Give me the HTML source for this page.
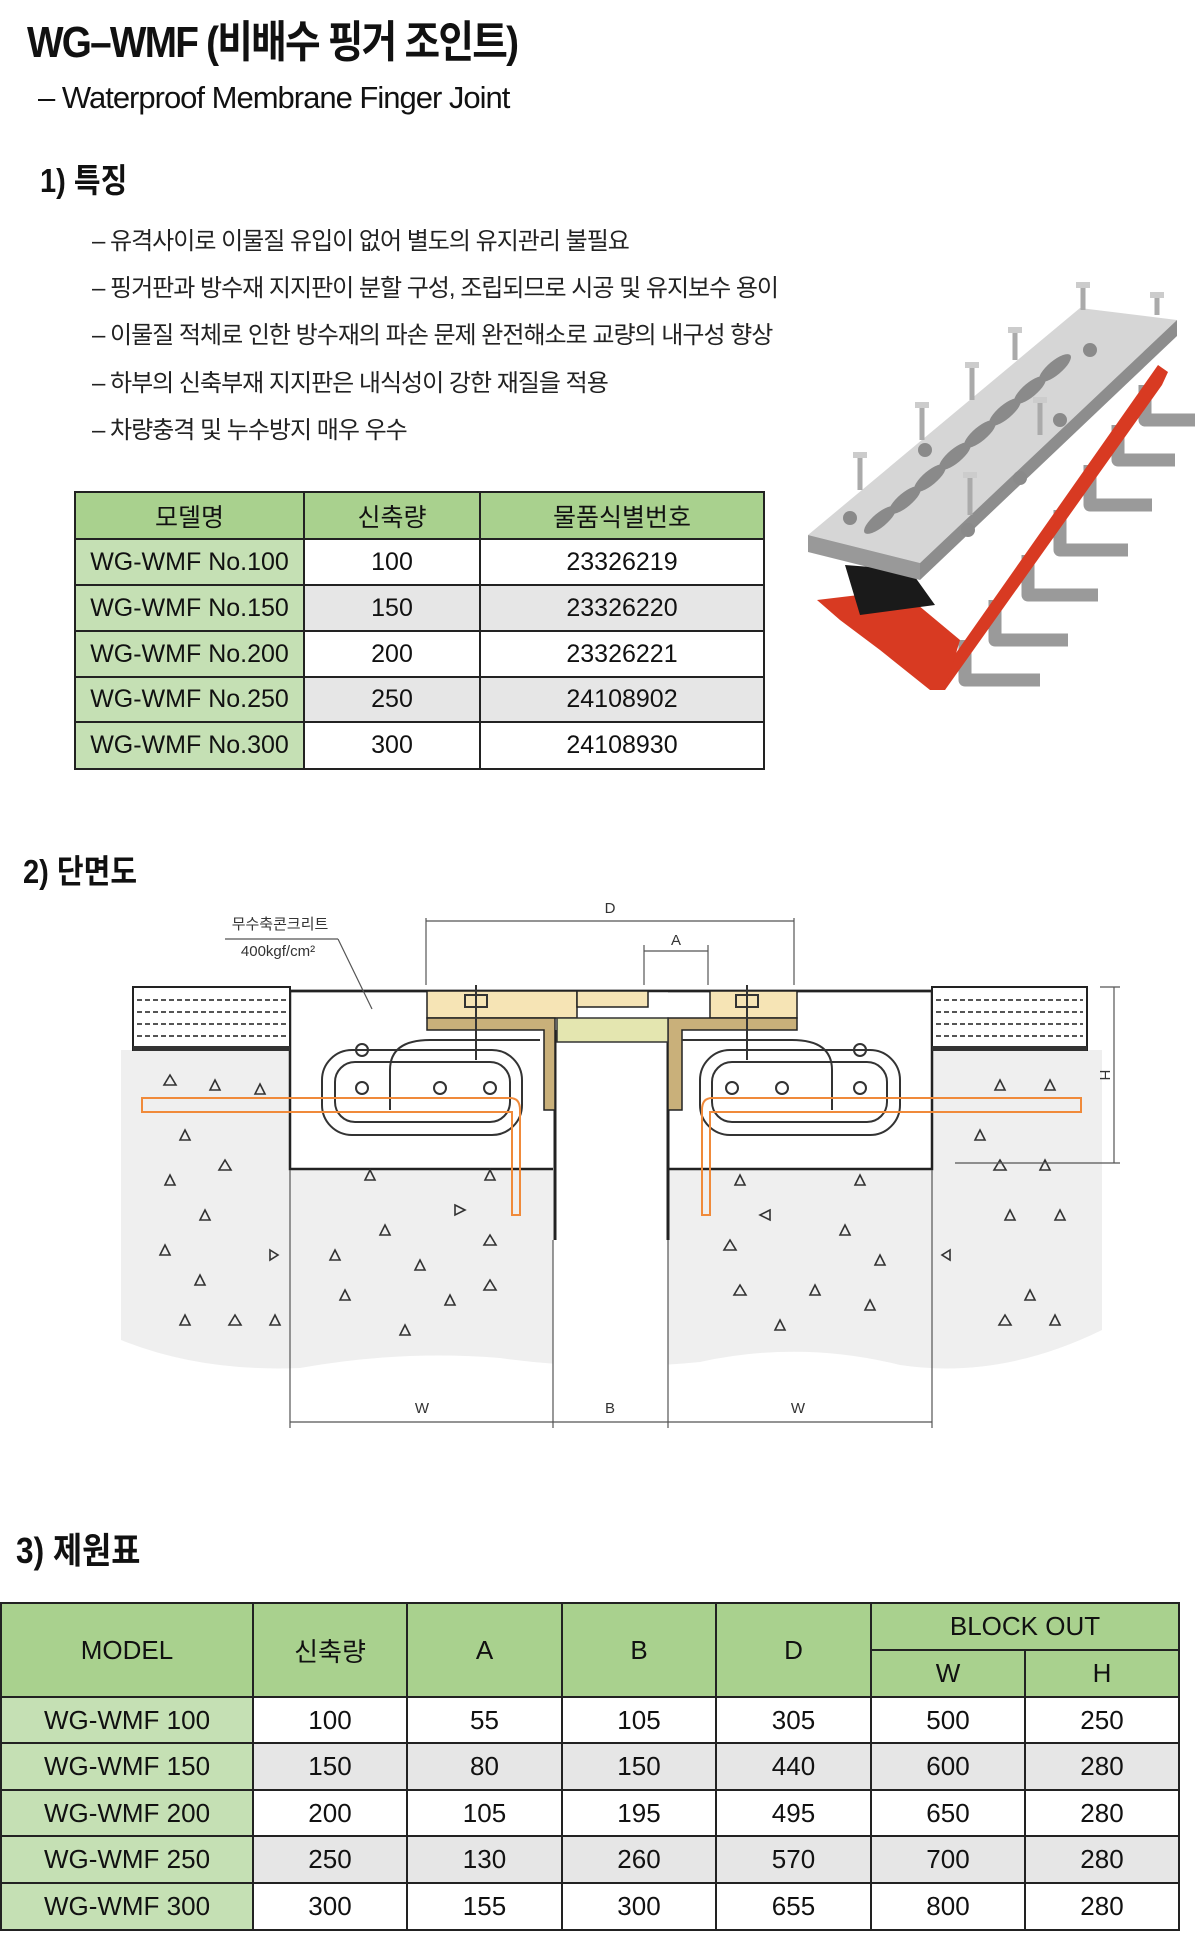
<!DOCTYPE html>
<html><head><meta charset="utf-8">
<style>
*{margin:0;padding:0;box-sizing:border-box}
body{width:1200px;height:1937px;background:#fff;position:relative;overflow:hidden;font-family:"Liberation Sans","Noto Sans CJK KR",sans-serif;color:#111}
.a{position:absolute;white-space:nowrap}
h1{position:absolute;left:27px;top:6px;font-size:44px;font-weight:bold;letter-spacing:-2px;transform:scaleX(0.88);transform-origin:left}
table{border-collapse:collapse;position:absolute}
td{border:2px solid #222;text-align:center;font-family:"Liberation Sans","Noto Sans CJK KR",sans-serif;color:#111}
</style></head><body>
<h1>WG–WMF (비배수 핑거 조인트)</h1>
<div class="a" style="left:38px;top:80px;font-size:31px;letter-spacing:-1px">– Waterproof Membrane Finger Joint</div>
<div class="a" style="left:40px;top:154px;font-size:33px;font-weight:bold;transform:scaleX(0.88);transform-origin:left">1) 특징</div>
<div class="a" style="left:92px;top:218px;font-size:24px;line-height:47.2px;letter-spacing:-1px;color:#222">
– 유격사이로 이물질 유입이 없어 별도의 유지관리 불필요<br>
– 핑거판과 방수재 지지판이 분할 구성, 조립되므로 시공 및 유지보수 용이<br>
– 이물질 적체로 인한 방수재의 파손 문제 완전해소로 교량의 내구성 향상<br>
– 하부의 신축부재 지지판은 내식성이 강한 재질을 적용<br>
– 차량충격 및 누수방지 매우 우수</div>

<table style="left:74px;top:491px;width:691px;font-size:25px">
<tr style="height:47px;background:#a9d18e"><td style="width:229px">모델명</td><td style="width:176px">신축량</td><td>물품식별번호</td></tr>
<tr style="height:46px"><td style="background:#c5e0b4">WG-WMF No.100</td><td>100</td><td>23326219</td></tr>
<tr style="height:46px;background:#e6e6e6"><td style="background:#c5e0b4">WG-WMF No.150</td><td>150</td><td>23326220</td></tr>
<tr style="height:46px"><td style="background:#c5e0b4">WG-WMF No.200</td><td>200</td><td>23326221</td></tr>
<tr style="height:45px;background:#e6e6e6"><td style="background:#c5e0b4">WG-WMF No.250</td><td>250</td><td>24108902</td></tr>
<tr style="height:47px"><td style="background:#c5e0b4">WG-WMF No.300</td><td>300</td><td>24108930</td></tr>
</table>

<!-- product -->
<svg class="a" style="left:0;top:0" width="1200" height="720">
<g fill="none" stroke="#9a9a9a" stroke-width="13" stroke-linejoin="round">
<path d="M1145 385 V420 H1195"/><path d="M1118 425 V460 H1175"/><path d="M1090 465 V505 H1152"/>
<path d="M1060 510 V550 H1128"/><path d="M1028 555 V595 H1098"/><path d="M995 600 V640 H1068"/>
<path d="M965 640 V680 H1040"/>
</g>
<polygon points="1158,365 1168,372 1162,385 945,690 930,690" fill="#d83a22"/>
<polygon points="817,600 900,590 960,640 945,690 930,690 880,650 840,620" fill="#d83a22"/>
<polygon points="845,565 910,570 935,605 860,615" fill="#1a1a1a"/>
<polygon points="808,535 1080,308 1177,320 920,563" fill="#d6d6d6"/>
<polygon points="808,535 920,563 920,580 808,552" fill="#999"/>
<polygon points="920,563 1177,320 1177,336 920,580" fill="#8d8d8d"/>
<g fill="#8a8a8a">
<ellipse cx="880" cy="520" rx="20" ry="7" transform="rotate(-40 880 520)"/>
<ellipse cx="905" cy="500" rx="20" ry="7" transform="rotate(-40 905 500)"/>
<ellipse cx="930" cy="478" rx="20" ry="7" transform="rotate(-40 930 478)"/>
<ellipse cx="955" cy="456" rx="20" ry="7" transform="rotate(-40 955 456)"/>
<ellipse cx="980" cy="434" rx="20" ry="7" transform="rotate(-40 980 434)"/>
<ellipse cx="1005" cy="412" rx="20" ry="7" transform="rotate(-40 1005 412)"/>
<ellipse cx="1030" cy="390" rx="20" ry="7" transform="rotate(-40 1030 390)"/>
<ellipse cx="1055" cy="368" rx="20" ry="7" transform="rotate(-40 1055 368)"/>
<circle cx="850" cy="518" r="7"/><circle cx="968" cy="530" r="7"/><circle cx="1020" cy="478" r="7"/><circle cx="925" cy="450" r="7"/><circle cx="1090" cy="350" r="7"/><circle cx="1060" cy="420" r="7"/>
</g>
<g stroke="#aaa" stroke-width="5"><line x1="860" y1="455" x2="860" y2="490"/><line x1="922" y1="405" x2="922" y2="440"/><line x1="972" y1="365" x2="972" y2="400"/><line x1="1015" y1="330" x2="1015" y2="360"/><line x1="1083" y1="285" x2="1083" y2="310"/><line x1="1157" y1="295" x2="1157" y2="315"/><line x1="970" y1="475" x2="970" y2="515"/><line x1="1040" y1="400" x2="1040" y2="435"/></g>
<g fill="#ccc"><rect x="853" y="452" width="14" height="6"/><rect x="915" y="402" width="14" height="6"/><rect x="965" y="362" width="14" height="6"/><rect x="1008" y="327" width="14" height="6"/><rect x="1076" y="282" width="14" height="6"/><rect x="1150" y="292" width="14" height="6"/><rect x="963" y="472" width="14" height="6"/><rect x="1033" y="397" width="14" height="6"/></g>
</svg>

<div class="a" style="left:23px;top:845px;font-size:33px;font-weight:bold;transform:scaleX(0.88);transform-origin:left">2) 단면도</div>

<svg class="a" style="left:0;top:890px" width="1200" height="550" viewBox="0 890 1200 550">
<path d="M121 1050 H1102 V1330 Q1000 1380 900 1365 Q800 1340 700 1362 Q600 1372 500 1358 Q400 1350 300 1368 Q200 1372 121 1340 Z" fill="#efefef"/>
<rect x="290" y="991" width="642" height="178" fill="#fff" stroke="#222" stroke-width="2.5"/>
<rect x="553" y="991" width="115" height="440" fill="#fff"/>
<line x1="555" y1="1030" x2="555" y2="1240" stroke="#222" stroke-width="3"/>
<line x1="668" y1="1030" x2="668" y2="1240" stroke="#222" stroke-width="3"/>
<line x1="133" y1="991" x2="1087" y2="991" stroke="#222" stroke-width="2.5"/>
<g fill="#fff" stroke="#222" stroke-width="2">
<rect x="133" y="987" width="157" height="63"/><rect x="932" y="987" width="155" height="63"/></g>
<g stroke="#555" stroke-width="2" stroke-dasharray="5,3">
<line x1="137" y1="1000" x2="286" y2="1000"/><line x1="137" y1="1012" x2="286" y2="1012"/><line x1="137" y1="1024" x2="286" y2="1024"/><line x1="137" y1="1036" x2="286" y2="1036"/>
<line x1="936" y1="1000" x2="1083" y2="1000"/><line x1="936" y1="1012" x2="1083" y2="1012"/><line x1="936" y1="1024" x2="1083" y2="1024"/><line x1="936" y1="1036" x2="1083" y2="1036"/></g>
<rect x="133" y="1046" width="157" height="5" fill="#333"/><rect x="932" y="1046" width="155" height="5" fill="#333"/>
<g fill="#f6e4b5" stroke="#222" stroke-width="1.5">
<rect x="427" y="991" width="150" height="27"/><rect x="577" y="991" width="71" height="16"/><rect x="710" y="991" width="87" height="27"/></g>
<g fill="#c9b07a" stroke="#222" stroke-width="1.5">
<path d="M427 1018 H555 V1110 H544 V1030 H427 Z"/><path d="M668 1018 H797 V1030 H682 V1110 H668 Z"/></g>
<rect x="557" y="1018" width="111" height="24" fill="#e4e6b0" stroke="#333" stroke-width="1.5"/>
<g fill="none" stroke="#333" stroke-width="2">
<rect x="322" y="1050" width="200" height="85" rx="30"/><rect x="335" y="1062" width="175" height="60" rx="20"/>
<path d="M390 1110 V1070 Q390 1040 430 1040 H540"/>
<rect x="700" y="1050" width="200" height="85" rx="30"/><rect x="712" y="1062" width="175" height="60" rx="20"/>
<path d="M832 1110 V1070 Q832 1040 792 1040 H682"/>
<circle cx="362" cy="1050" r="6"/><circle cx="362" cy="1088" r="6"/><circle cx="440" cy="1088" r="6"/><circle cx="490" cy="1088" r="6"/>
<circle cx="860" cy="1050" r="6"/><circle cx="860" cy="1088" r="6"/><circle cx="782" cy="1088" r="6"/><circle cx="732" cy="1088" r="6"/>
<line x1="476" y1="985" x2="476" y2="1060"/><line x1="747" y1="985" x2="747" y2="1060"/>
<rect x="465" y="995" width="22" height="12"/><rect x="736" y="995" width="22" height="12"/>
</g>
<g fill="none" stroke="#f08a3a" stroke-width="2">
<path d="M142 1098 H510 Q520 1098 520 1110 V1215 H512 V1112 H142 Z"/>
<path d="M1081 1098 H712 Q702 1098 702 1110 V1215 H710 V1112 H1081 Z"/></g>
<g fill="none" stroke="#333" stroke-width="1.6">
<path d="M170 1075 l6 10 h-12 z"/><path d="M215 1080 l5 10 h-10 z"/><path d="M260 1084 l5 10 h-10 z"/><path d="M185 1130 l5 10 h-10 z"/><path d="M225 1160 l6 10 h-12 z"/><path d="M170 1175 l5 10 h-10 z"/><path d="M205 1210 l5 10 h-10 z"/><path d="M165 1245 l5 10 h-10 z"/><path d="M270 1250 l8 5 -8 5 z"/><path d="M200 1275 l5 10 h-10 z"/><path d="M235 1315 l6 10 h-12 z"/><path d="M185 1315 l5 10 h-10 z"/><path d="M275 1315 l5 10 h-10 z"/>
<path d="M370 1170 l5 10 h-10 z"/><path d="M490 1170 l5 10 h-10 z"/><path d="M455 1205 l10 5 -10 5 z"/><path d="M385 1225 l5 10 h-10 z"/><path d="M490 1235 l6 10 h-12 z"/><path d="M335 1250 l5 10 h-10 z"/><path d="M420 1260 l5 10 h-10 z"/><path d="M490 1280 l6 10 h-12 z"/><path d="M345 1290 l5 10 h-10 z"/><path d="M450 1295 l5 10 h-10 z"/><path d="M405 1325 l5 10 h-10 z"/>
<path d="M740 1175 l5 10 h-10 z"/><path d="M860 1175 l5 10 h-10 z"/><path d="M770 1210 l-10 5 10 5 z"/><path d="M730 1240 l6 10 h-12 z"/><path d="M845 1225 l5 10 h-10 z"/><path d="M880 1255 l5 10 h-10 z"/><path d="M740 1285 l6 10 h-12 z"/><path d="M815 1285 l5 10 h-10 z"/><path d="M780 1320 l5 10 h-10 z"/><path d="M870 1300 l5 10 h-10 z"/>
<path d="M1000 1080 l5 10 h-10 z"/><path d="M1050 1080 l5 10 h-10 z"/><path d="M980 1130 l5 10 h-10 z"/><path d="M1000 1160 l6 10 h-12 z"/><path d="M1045 1160 l5 10 h-10 z"/><path d="M1010 1210 l5 10 h-10 z"/><path d="M1060 1210 l5 10 h-10 z"/><path d="M950 1250 l-8 5 8 5 z"/><path d="M1030 1290 l5 10 h-10 z"/><path d="M1005 1315 l6 10 h-12 z"/><path d="M1055 1315 l5 10 h-10 z"/>
</g>
<g stroke="#555" stroke-width="1.2" fill="#555">
<line x1="426" y1="918" x2="426" y2="985"/><line x1="794" y1="918" x2="794" y2="985"/><line x1="426" y1="921" x2="794" y2="921"/>
<line x1="644" y1="945" x2="644" y2="985"/><line x1="708" y1="945" x2="708" y2="985"/><line x1="644" y1="951" x2="708" y2="951"/>
<line x1="1100" y1="987" x2="1120" y2="987"/><line x1="955" y1="1163" x2="1120" y2="1163"/><line x1="1114" y1="987" x2="1114" y2="1163"/>
<line x1="290" y1="1170" x2="290" y2="1428"/><line x1="553" y1="1240" x2="553" y2="1428"/><line x1="668" y1="1240" x2="668" y2="1428"/><line x1="932" y1="1170" x2="932" y2="1428"/>
<line x1="290" y1="1422" x2="932" y2="1422"/>
<line x1="338" y1="939" x2="372" y2="1009"/><line x1="225" y1="939" x2="338" y2="939"/>
</g>
<g font-family="Liberation Sans,Noto Sans CJK KR,sans-serif" font-size="15" fill="#333" text-anchor="middle">
<text x="610" y="913">D</text><text x="676" y="945">A</text>
<text x="422" y="1413">W</text><text x="610" y="1413">B</text><text x="798" y="1413">W</text>
<text x="1100" y="1075" transform="rotate(90 1100 1075)">H</text>
<text x="280" y="929">무수축콘크리트</text><text x="278" y="956">400kgf/cm²</text>
</g>
</svg>

<div class="a" style="left:16px;top:1522px;font-size:36px;font-weight:bold;transform:scaleX(0.88);transform-origin:left">3) 제원표</div>

<table style="left:0;top:1602px;width:1180px;font-size:26px">
<tr style="height:47px;background:#a9d18e"><td rowspan="2" style="width:252px">MODEL</td><td rowspan="2" style="width:154px">신축량</td><td rowspan="2" style="width:155px">A</td><td rowspan="2" style="width:154px">B</td><td rowspan="2" style="width:155px">D</td><td colspan="2">BLOCK OUT</td></tr>
<tr style="height:47px;background:#a9d18e"><td style="width:154px">W</td><td>H</td></tr>
<tr style="height:46px"><td style="background:#c5e0b4">WG-WMF 100</td><td>100</td><td>55</td><td>105</td><td>305</td><td>500</td><td>250</td></tr>
<tr style="height:47px;background:#e6e6e6"><td style="background:#c5e0b4">WG-WMF 150</td><td>150</td><td>80</td><td>150</td><td>440</td><td>600</td><td>280</td></tr>
<tr style="height:46px"><td style="background:#c5e0b4">WG-WMF 200</td><td>200</td><td>105</td><td>195</td><td>495</td><td>650</td><td>280</td></tr>
<tr style="height:47px;background:#e6e6e6"><td style="background:#c5e0b4">WG-WMF 250</td><td>250</td><td>130</td><td>260</td><td>570</td><td>700</td><td>280</td></tr>
<tr style="height:47px"><td style="background:#c5e0b4">WG-WMF 300</td><td>300</td><td>155</td><td>300</td><td>655</td><td>800</td><td>280</td></tr>
</table>
</body></html>
